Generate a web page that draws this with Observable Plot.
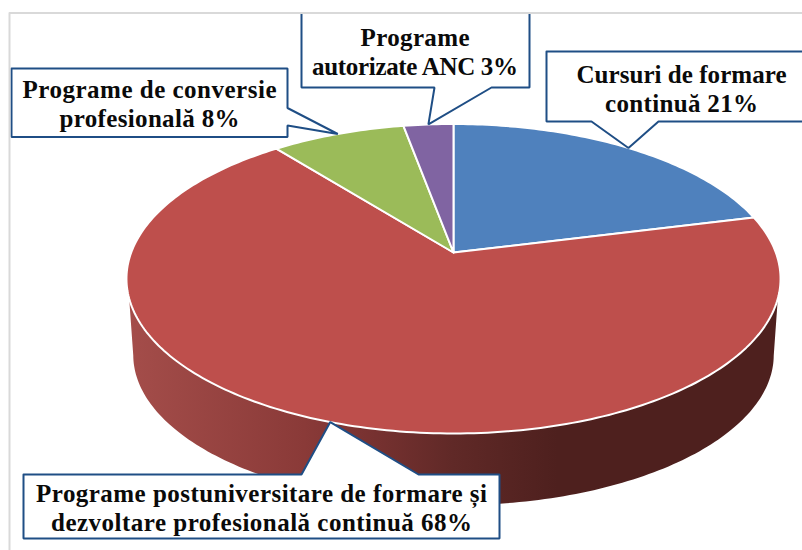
<!DOCTYPE html>
<html><head><meta charset="utf-8">
<script src="https://cdn.jsdelivr.net/npm/d3@7"></script>
<script src="https://cdn.jsdelivr.net/npm/@observablehq/plot@0.6"></script>
<style>html,body{margin:0;padding:0;background:#fff}svg{display:block}</style>
</head><body><div id="chart"></div>
<script>
const categories = ["Cursuri de formare continuă", "Programe postuniversitare de formare și dezvoltare profesională continuă", "Programe de conversie profesională", "Programe autorizate ANC"];
const values = [21.1, 68.2, 7.8, 2.9];
const labelLines = ["Cursuri de formare\ncontinuă", "Programe postuniversitare de formare și\ndezvoltare profesională continuă", "Programe de conversie\nprofesională", "Programe\nautorizate ANC"];
const colors = ["#4F81BD", "#BE4F4C", "#9BBB59", "#8064A2"];

// perspective layout of the disc
const top3d = {cx: 453, cy: 252, a: 322.3, b: 150.3, k: 0.1696};
const base3d = {cx: 453, cy: 329, a: 315.6, b: 146, k: 0.1696};
const project = (g, deg) => {
  const t = deg * Math.PI / 180, u = Math.sin(t), v = Math.cos(t), d = 1 + g.k * v;
  return {x: g.cx + g.a * u / d, y: g.cy - g.b * v / d};
};
const total = d3.sum(values);
const cum = d3.cumsum(values);
const startDeg = i => (i ? cum[i - 1] : 0) / total * 360;
const endDeg = i => cum[i] / total * 360;

const wedges = categories.flatMap((category, i) => {
  const pts = [{x: top3d.cx, y: top3d.cy}];
  for (const d of d3.range(startDeg(i), endDeg(i), 1)) pts.push(project(top3d, d));
  pts.push(project(top3d, endDeg(i)), {x: top3d.cx, y: top3d.cy});
  return pts.map(p => ({...p, category}));
});

const wall = [
  ...d3.range(107, 253.5, 1).map(d => project(top3d, d)),
  ...d3.range(260, 99.5, -1).map(d => project(base3d, d))
];

// callout boxes: one per category, the pointer tip sits on the slice's rim at its mid angle
const boxes = [
  {l: 546, t: 51, r: 815, b: 121, side: "b", p1: 591, p2: 658, tx: 681, ty: 88, w: [210, 153]},
  {l: 23, t: 474, r: 499, b: 538, side: "t", p1: 301, p2: 418, tx: 261, ty: 507, w: [451, 421]},
  {l: 11, t: 68, r: 287, b: 136.5, side: "r", p1: 107.5, p2: 125, tx: 149, ty: 103, w: [254, 180]},
  {l: 301, t: 12.5, r: 529, b: 87, side: "b", p1: 434, p2: 491, tx: 414.5, ty: 51, w: [109, 206]}
];
const callouts = boxes.flatMap((b, i) => {
  const tip = project(top3d, (startDeg(i) + endDeg(i)) / 2);
  let pts;
  if (b.side === "b") pts = [[b.l,b.t],[b.r,b.t],[b.r,b.b],[b.p2,b.b],[tip.x,tip.y],[b.p1,b.b],[b.l,b.b]];
  if (b.side === "t") pts = [[b.l,b.t],[b.p1,b.t],[tip.x,tip.y],[b.p2,b.t],[b.r,b.t],[b.r,b.b],[b.l,b.b]];
  if (b.side === "r") pts = [[b.l,b.t],[b.r,b.t],[b.r,b.p1],[tip.x,tip.y],[b.r,b.p2],[b.r,b.b],[b.l,b.b]];
  pts.push(pts[0]);
  return pts.map(([x, y]) => ({x, y, i}));
});
const texts = boxes.map((b, i) => ({x: b.tx, y: b.ty, text: `${labelLines[i]} ${Math.round(values[i])}%`}));

const frame = [{x: 9, y: 560}, {x: 9, y: 12.5}, {x: 815, y: 12.5}];

const gradient = () => {
  const defs = d3.create("svg:defs");
  const g = defs.append("linearGradient").attr("id", "wall").attr("x1", 0).attr("x2", 1).attr("y1", 0).attr("y2", 0);
  [[0, "#A44D4A"], [0.27, "#8A3A38"], [0.38, "#763130"], [0.5, "#602927"], [0.66, "#4E201E"], [1, "#4E201E"]]
    .forEach(([o, c]) => g.append("stop").attr("offset", o).attr("stop-color", c));
  return defs.node();
};

const chart = Plot.plot({
  width: 802, height: 550, margin: 0,
  style: {background: "#fff"},
  x: {domain: [0, 802], range: [0, 802], axis: null},
  y: {domain: [0, 550], range: [0, 550], axis: null},
  color: {domain: categories, range: colors},
  marks: [
    gradient,
    Plot.line(wall, {x: "x", y: "y", fill: "url(#wall)", stroke: "none"}),
    Plot.line(wedges, {x: "x", y: "y", fill: "category", stroke: "white", strokeWidth: 2}),
    Plot.line(callouts, {x: "x", y: "y", z: "i", fill: "white", stroke: "#1F4E85", strokeWidth: 2, strokeLinejoin: "miter"}),
    Plot.line(frame, {x: "x", y: "y", stroke: "#D9D9D9", strokeWidth: 2}),
    Plot.text(texts, {x: "x", y: "y", text: "text", fontFamily: "'Liberation Serif'", fontWeight: "bold", fontSize: 25, lineHeight: 1.14, fill: "#0a0a0a", textAnchor: "middle",
      render(index, scales, channels, dims, ctx, next) {
        const g = next(index, scales, channels, dims, ctx);
        const widths = boxes.flatMap(b => b.w);
        g.querySelectorAll("tspan").forEach((t, n) => t.setAttribute("textLength", widths[n]));
        return g;
      }})
  ]
});
document.getElementById("chart").append(chart);
</script></body></html>
